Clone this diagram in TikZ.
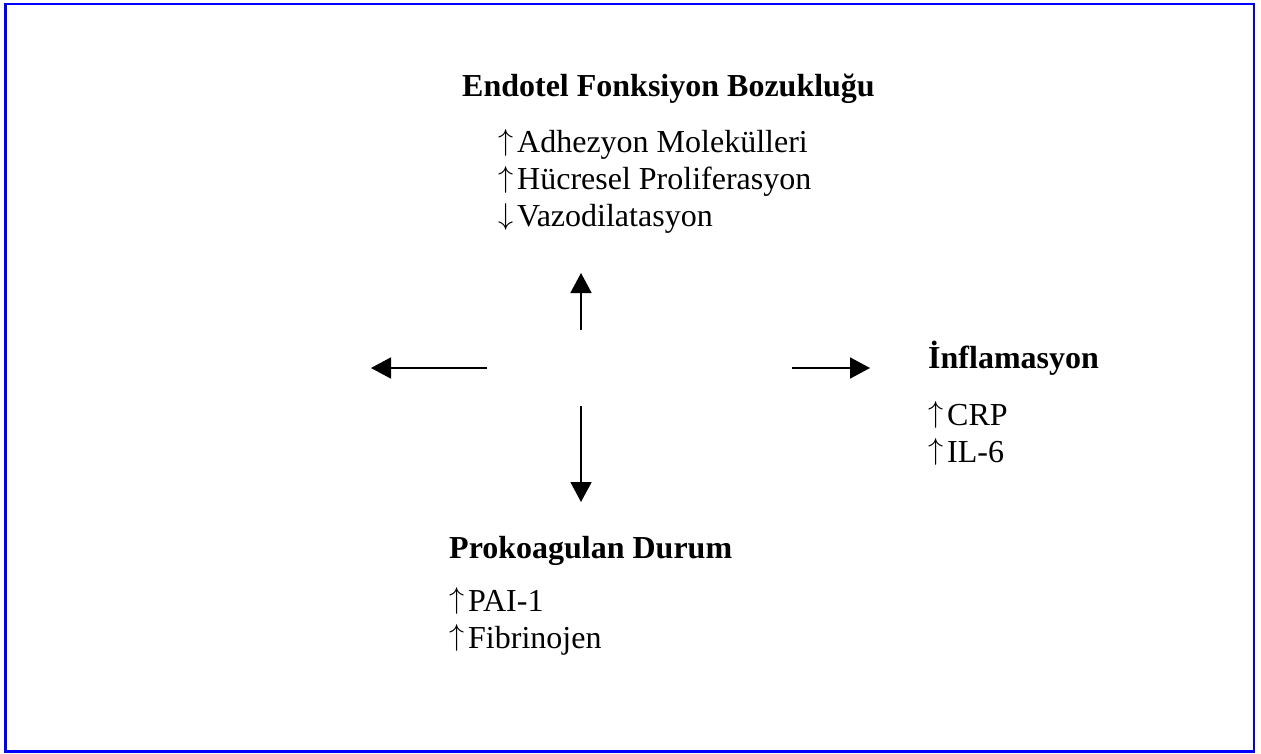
\documentclass[tikz,border=0pt]{standalone}
\usepackage{graphicx}
\usepackage{fontspec}
\setmainfont{Liberation Serif}
\usetikzlibrary{arrows.meta}
\newcommand{\upa}{\makebox[19pt][l]{\raisebox{2.5pt}{\resizebox{!}{21pt}{$\uparrow$}}}}
\newcommand{\dna}{\makebox[19pt][l]{\raisebox{2.5pt}{\resizebox{!}{21pt}{$\downarrow$}}}}
\begin{document}
\begin{tikzpicture}[x=1pt,y=-1pt,
  txt/.style={anchor=base west,inner sep=0pt,font=\fontsize{32}{37}\selectfont},
  ttl/.style={txt,font=\fontsize{32}{37}\selectfont\bfseries},
  arr/.style={line width=1.7pt,-{Triangle[width=21pt,length=20pt]}},
  frame/.style={draw=blue,line width=2.2pt}]
\useasboundingbox (0,0) rectangle (1261,754);
\draw[frame] (5.5,3.7) rectangle (1254,751.5);
% top block
\node[ttl] (t1) at (462,97) {Endotel Fonksiyon Bozukluğu};
\node[txt] (t2) at (498,153) {\upa Adhezyon Molekülleri};
\node[txt] (t3) at (498,190) {\upa Hücresel Proliferasyon};
\node[txt] (t4) at (498,227) {\dna Vazodilatasyon};
% right block
\node[ttl] (r1) at (928,368) {İnflamasyon};
\node[txt] (r2) at (928,425) {\upa CRP};
\node[txt] (r3) at (928,462) {\upa IL-6};
% bottom block
\node[ttl] (b1) at (449,558) {Prokoagulan Durum};
\node[txt] (b2) at (449,611) {\upa PAI-1};
\node[txt] (b3) at (449,648) {\upa Fibrinojen};
% arrows
\coordinate (us) at (581,330);
\coordinate (ue) at (581,273);
\coordinate (ls) at (487,368);
\coordinate (le) at (371,368);
\coordinate (rs) at (792,368);
\coordinate (re) at (870,368);
\coordinate (ds) at (581,406);
\coordinate (de) at (581,502);
\draw[arr] (us) -- (ue);
\draw[arr] (ls) -- (le);
\draw[arr] (rs) -- (re);
\draw[arr] (ds) -- (de);
\end{tikzpicture}
\end{document}
